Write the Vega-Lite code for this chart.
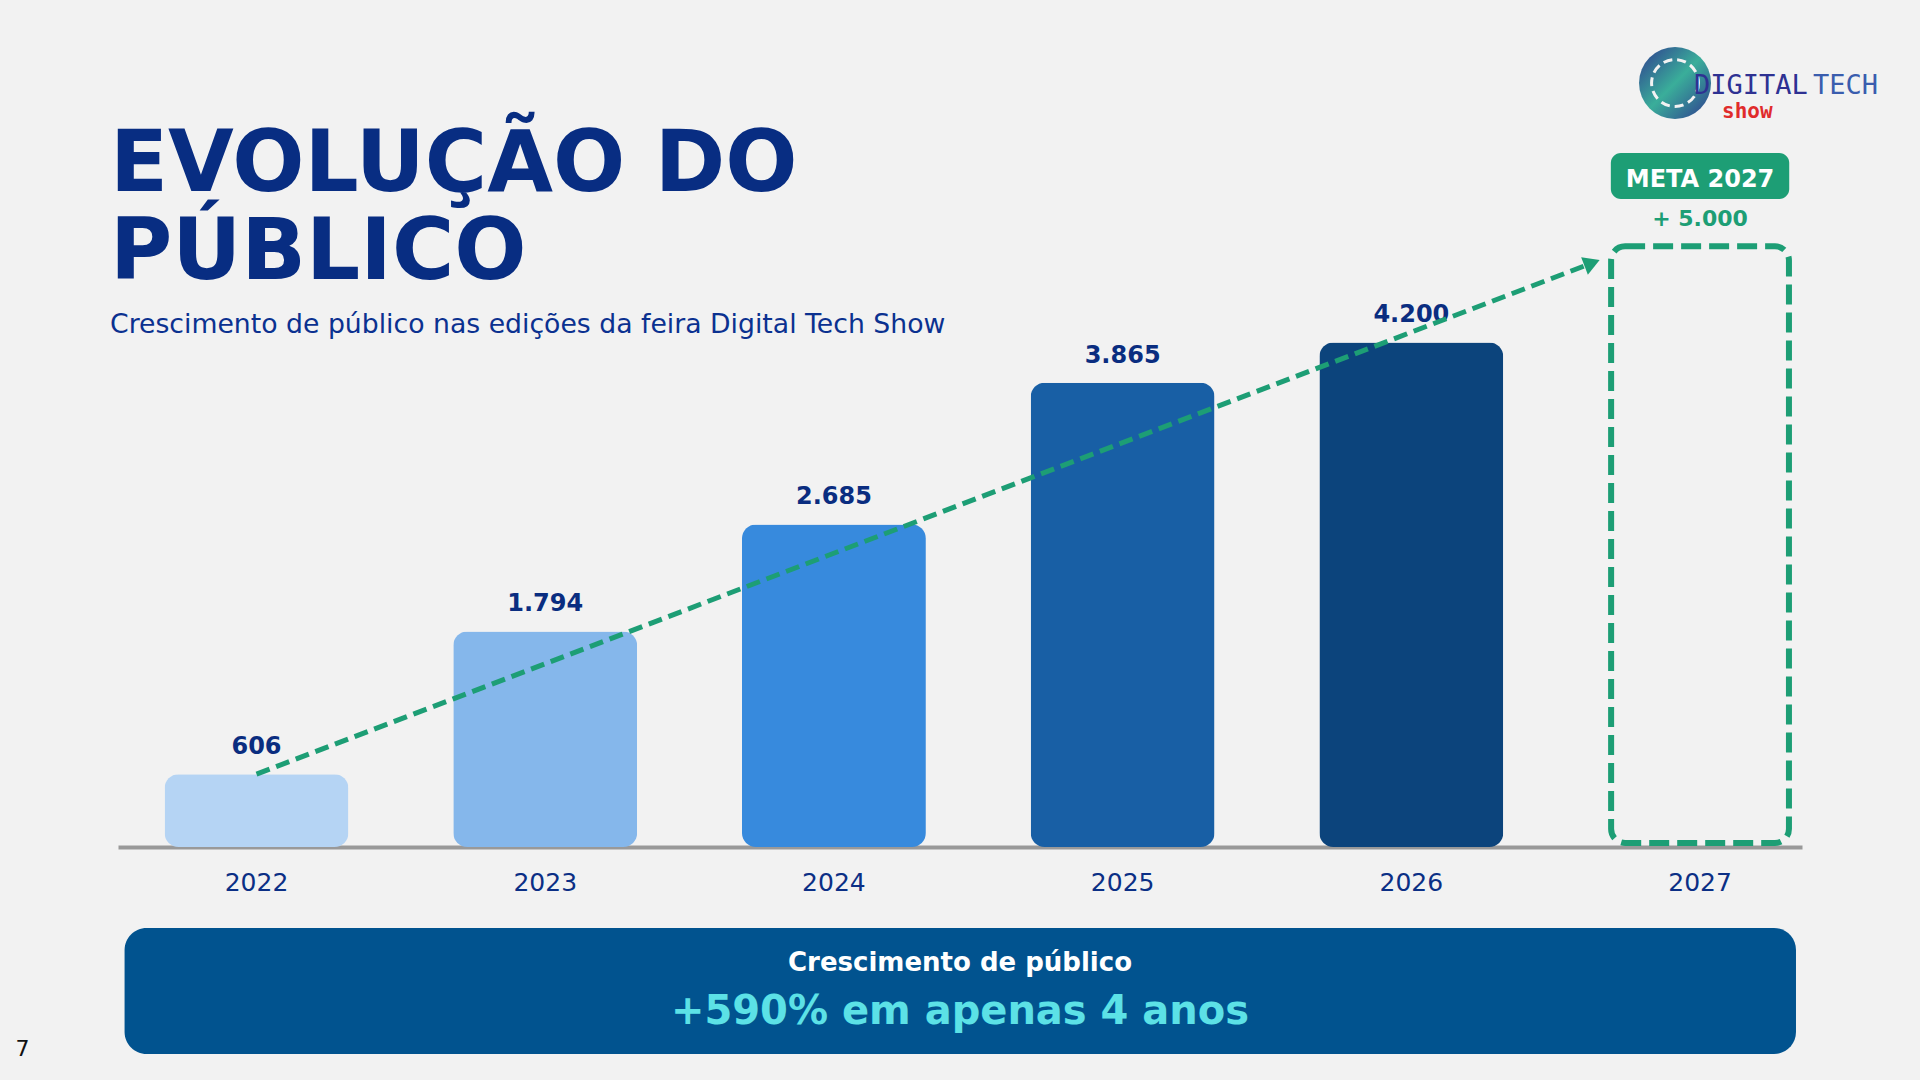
{
  "$schema": "https://vega.github.io/schema/vega-lite/v6.json",
  "width": 1684,
  "height": 847,
  "autosize": {"type": "none"},
  "padding": {"left": 118, "right": 118, "top": 0, "bottom": 233},
  "background": "#F2F2F2",
  "config": {"view": {"stroke": null}, "font": "DejaVu Sans"},
  "title": {
    "text": ["EVOLUÇÃO DO", "PÚBLICO"],
    "subtitle": "Crescimento de público nas edições da feira Digital Tech Show",
    "anchor": "start",
    "frame": "group",
    "orient": "top",
    "offset": 0,
    "dx": -8,
    "dy": 340,
    "font": "DejaVu Sans",
    "fontSize": 85,
    "fontWeight": "bold",
    "color": "#082D82",
    "lineHeight": 88,
    "subtitleFont": "DejaVu Sans",
    "subtitleFontSize": 26.7,
    "subtitleFontWeight": "normal",
    "subtitleColor": "#0B3190",
    "subtitlePadding": 15
  },
  "datasets": {
    "publico": [
      {"ano": "2022", "publico": 606, "rotulo": "606", "tipo": "real"},
      {"ano": "2023", "publico": 1794, "rotulo": "1.794", "tipo": "real"},
      {"ano": "2024", "publico": 2685, "rotulo": "2.685", "tipo": "real"},
      {"ano": "2025", "publico": 3865, "rotulo": "3.865", "tipo": "real"},
      {"ano": "2026", "publico": 4200, "rotulo": "4.200", "tipo": "real"},
      {"ano": "2027", "publico": 5000, "rotulo": "+ 5.000", "tipo": "meta"}
    ]
  },
  "data": {"name": "publico"},
  "layer": [
    {
      "transform": [{"filter": {"field": "tipo", "equal": "real"}}],
      "mark": {"type": "bar", "cornerRadius": 14},
      "encoding": {
        "x": {
          "field": "ano",
          "type": "ordinal",
          "title": null,
          "scale": {
            "domain": ["2022", "2023", "2024", "2025", "2026", "2027"],
            "paddingInner": 0.363,
            "paddingOuter": 0.098,
            "align": 0.823
          },
          "axis": {
            "title": null,
            "orient": "bottom",
            "domain": true,
            "domainColor": "#999999",
            "domainWidth": 4,
            "ticks": false,
            "tickSize": 0,
            "grid": false,
            "labelAngle": 0,
            "labelFont": "DejaVu Sans",
            "labelFontSize": 25,
            "labelColor": "#0B2F85",
            "labelBaseline": "alphabetic",
            "labelPadding": 43
          }
        },
        "y": {
          "field": "publico",
          "type": "quantitative",
          "scale": {"domain": [0, 7050], "nice": false, "zero": true},
          "axis": null
        },
        "color": {
          "field": "ano",
          "type": "ordinal",
          "scale": {
            "domain": ["2022", "2023", "2024", "2025", "2026"],
            "range": ["#B5D4F4", "#85B7EB", "#378ADD", "#185FA5", "#0C447C"]
          },
          "legend": null
        }
      }
    },
    {
      "transform": [{"filter": {"field": "tipo", "equal": "meta"}}],
      "mark": {
        "type": "bar",
        "fill": "transparent",
        "stroke": "#1D9E75",
        "strokeWidth": 6,
        "strokeDash": [20, 8],
        "cornerRadius": 14,
        "width": {"band": 0.967},
        "y2Offset": -4
      },
      "encoding": {
        "x": {"field": "ano", "type": "ordinal", "title": null},
        "y": {"field": "publico", "type": "quantitative", "axis": null},
        "y2": {"datum": 0}
      }
    },
    {
      "transform": [{"filter": {"field": "tipo", "equal": "real"}}],
      "mark": {
        "type": "text",
        "font": "DejaVu Sans",
        "fontWeight": "bold",
        "fontSize": 24,
        "fill": "#0A2D80",
        "baseline": "alphabetic",
        "dy": -20
      },
      "encoding": {
        "x": {"field": "ano", "type": "ordinal", "title": null},
        "y": {"field": "publico", "type": "quantitative", "axis": null},
        "text": {"field": "rotulo"}
      }
    },
    {
      "data": {"values": [{}]},
      "mark": {
        "type": "rule",
        "stroke": "#1D9E75",
        "strokeWidth": 5,
        "strokeDash": [14, 7],
        "x2Offset": -16
      },
      "encoding": {
        "x": {"datum": "2022", "type": "ordinal", "title": null},
        "y": {"datum": 606, "type": "quantitative", "axis": null},
        "x2": {"datum": "2027", "bandPosition": 0},
        "y2": {"datum": 4861}
      }
    },
    {
      "data": {"values": [{}]},
      "mark": {
        "type": "point",
        "shape": "triangle-right",
        "filled": true,
        "fill": "#1D9E75",
        "opacity": 1,
        "size": 350,
        "angle": 339,
        "xOffset": -16
      },
      "encoding": {
        "x": {"datum": "2027", "type": "ordinal", "bandPosition": 0, "title": null},
        "y": {"datum": 4861, "type": "quantitative", "axis": null}
      }
    },
    {
      "data": {"values": [{}]},
      "mark": {"type": "rect", "fill": "#1D9E75", "cornerRadius": 10, "width": {"band": 0.97}},
      "encoding": {
        "x": {"datum": "2027", "type": "ordinal", "title": null},
        "y": {"datum": 5777, "type": "quantitative", "axis": null},
        "y2": {"datum": 5394}
      }
    },
    {
      "data": {"values": [{}]},
      "mark": {
        "type": "text",
        "text": "META 2027",
        "fill": "#FFFFFF",
        "font": "DejaVu Sans",
        "fontWeight": "bold",
        "fontSize": 24,
        "baseline": "alphabetic"
      },
      "encoding": {
        "x": {"datum": "2027", "type": "ordinal", "title": null},
        "y": {"datum": 5494, "type": "quantitative", "axis": null}
      }
    },
    {
      "transform": [{"filter": {"field": "tipo", "equal": "meta"}}],
      "mark": {
        "type": "text",
        "fill": "#1D9E75",
        "font": "DejaVu Sans",
        "fontWeight": "bold",
        "fontSize": 22,
        "baseline": "alphabetic",
        "dy": -20
      },
      "encoding": {
        "x": {"field": "ano", "type": "ordinal", "title": null},
        "y": {"field": "publico", "type": "quantitative", "axis": null},
        "text": {"field": "rotulo"}
      }
    },
    {
      "data": {"values": [{}]},
      "mark": {
        "type": "point",
        "shape": "circle",
        "filled": true,
        "opacity": 1,
        "size": 5184,
        "xOffset": -25,
        "fill": {
          "gradient": "linear",
          "x1": 0, "y1": 0, "x2": 1, "y2": 1,
          "stops": [
            {"offset": 0, "color": "#2E3A8F"},
            {"offset": 0.5, "color": "#3AAE9A"},
            {"offset": 1, "color": "#2E3A8F"}
          ]
        }
      },
      "encoding": {
        "x": {"datum": "2027", "type": "ordinal", "title": null},
        "y": {"datum": 6359, "type": "quantitative", "axis": null}
      }
    },
    {
      "data": {"values": [{}]},
      "mark": {
        "type": "point",
        "shape": "circle",
        "filled": false,
        "stroke": "#F2F2F2",
        "strokeWidth": 3,
        "strokeDash": [9, 5],
        "opacity": 1,
        "size": 2200,
        "xOffset": -25
      },
      "encoding": {
        "x": {"datum": "2027", "type": "ordinal", "title": null},
        "y": {"datum": 6359, "type": "quantitative", "axis": null}
      }
    },
    {
      "data": {"values": [{}]},
      "mark": {
        "type": "text",
        "text": "DIGITAL",
        "fill": "#2E3192",
        "font": "DejaVu Sans Mono",
        "fontSize": 27,
        "align": "left",
        "baseline": "alphabetic",
        "xOffset": -6
      },
      "encoding": {
        "x": {"datum": "2027", "type": "ordinal", "title": null},
        "y": {"datum": 6268, "type": "quantitative", "axis": null}
      }
    },
    {
      "data": {"values": [{}]},
      "mark": {
        "type": "text",
        "text": "TECH",
        "fill": "#3A5DAE",
        "font": "DejaVu Sans Mono",
        "fontSize": 27,
        "align": "left",
        "baseline": "alphabetic",
        "xOffset": 113
      },
      "encoding": {
        "x": {"datum": "2027", "type": "ordinal", "title": null},
        "y": {"datum": 6268, "type": "quantitative", "axis": null}
      }
    },
    {
      "data": {"values": [{}]},
      "mark": {
        "type": "text",
        "text": "show",
        "fill": "#E02B2B",
        "font": "DejaVu Sans Mono",
        "fontWeight": "bold",
        "fontSize": 21,
        "align": "left",
        "baseline": "alphabetic",
        "xOffset": 22
      },
      "encoding": {
        "x": {"datum": "2027", "type": "ordinal", "title": null},
        "y": {"datum": 6068, "type": "quantitative", "axis": null}
      }
    },
    {
      "data": {"values": [{}]},
      "mark": {"type": "rect", "fill": "#01538F", "cornerRadius": 22, "xOffset": -40, "x2Offset": 4},
      "encoding": {
        "x": {"datum": "2022", "type": "ordinal", "bandPosition": 0, "title": null},
        "x2": {"datum": "2027", "bandPosition": 1},
        "y": {"datum": -674, "type": "quantitative", "axis": null},
        "y2": {"datum": -1723}
      }
    },
    {
      "data": {"values": [{}]},
      "mark": {
        "type": "text",
        "text": "Crescimento de público",
        "fill": "#FFFFFF",
        "font": "DejaVu Sans",
        "fontWeight": "bold",
        "fontSize": 26,
        "align": "center",
        "baseline": "alphabetic"
      },
      "encoding": {
        "x": {"value": {"expr": "width / 2"}},
        "y": {"datum": -1032, "type": "quantitative", "axis": null}
      }
    },
    {
      "data": {"values": [{}]},
      "mark": {
        "type": "text",
        "text": "+590% em apenas 4 anos",
        "fill": "#5CE1E6",
        "font": "DejaVu Sans",
        "fontWeight": "bold",
        "fontSize": 40,
        "align": "center",
        "baseline": "alphabetic"
      },
      "encoding": {
        "x": {"value": {"expr": "width / 2"}},
        "y": {"datum": -1475, "type": "quantitative", "axis": null}
      }
    },
    {
      "data": {"values": [{}]},
      "mark": {
        "type": "text",
        "text": "7",
        "fill": "#111111",
        "font": "DejaVu Sans",
        "fontSize": 22,
        "align": "center",
        "baseline": "alphabetic",
        "xOffset": -142
      },
      "encoding": {
        "x": {"datum": "2022", "type": "ordinal", "bandPosition": 0, "title": null},
        "y": {"datum": -1740, "type": "quantitative", "axis": null}
      }
    }
  ]
}
